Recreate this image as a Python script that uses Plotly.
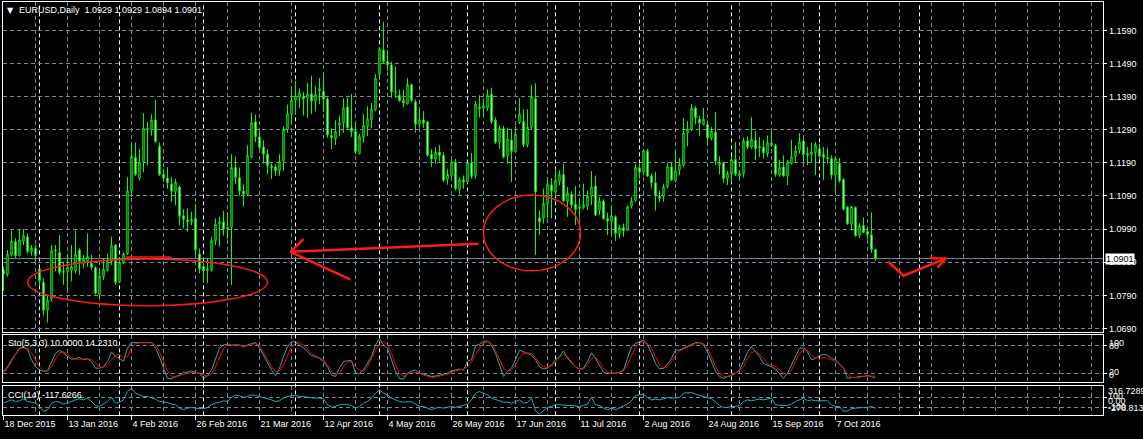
import plotly.graph_objects as go

# ---------------- data (EURUSD daily, bar index 0 = 18 Dec 2015) ----------------
opens = [1.0867,1.0854,1.0912,1.0952,1.0910,1.0954,1.0967,1.0922,1.0932,1.0870,
1.0829,1.0745,1.0780,1.0927,1.0919,1.0859,1.0862,1.0866,1.0864,1.0927,
1.0884,1.0892,1.0887,1.0874,1.0792,1.0847,1.0867,1.0892,1.0942,1.0830,
1.0887,1.0917,1.1104,1.1207,1.1144,1.1194,1.1290,1.1289,1.1320,1.1240,
1.1155,1.1144,1.1126,1.1104,1.1117,1.1030,1.1018,1.1012,1.1022,1.0915,
1.0877,1.0865,1.0867,1.0955,1.1005,1.1012,1.0990,1.0995,1.1176,1.1146,
1.1105,1.1095,1.1208,1.1314,1.1269,1.1238,1.1216,1.1181,1.1178,1.1166,
1.1196,1.1291,1.1336,1.1379,1.1389,1.1391,1.1386,1.1398,1.1376,1.1408,
1.1406,1.1383,1.1273,1.1263,1.1303,1.1311,1.1359,1.1296,1.1286,1.1218,
1.1268,1.1299,1.1321,1.1351,1.1458,1.1531,1.1496,1.1486,1.1403,1.1394,
1.1379,1.1368,1.1426,1.1374,1.1308,1.1320,1.1314,1.1216,1.1201,1.1222,
1.1212,1.1140,1.1152,1.1192,1.1110,1.1139,1.1132,1.1190,1.1152,1.1359,
1.1355,1.1355,1.1397,1.1319,1.1252,1.1294,1.1210,1.1259,1.1224,1.1312,
1.1315,1.1245,1.1297,1.1384,1.1024,1.1024,1.1065,1.1124,1.1102,1.1134,
1.1155,1.1074,1.1095,1.1064,1.1052,1.1055,1.1059,1.1089,1.1120,1.1047,
1.1075,1.1022,1.1012,1.1027,1.0977,1.0994,1.0987,1.1059,1.1077,1.1175,
1.1162,1.1226,1.1150,1.1130,1.1090,1.1090,1.1118,1.1178,1.1136,1.1168,
1.1183,1.1280,1.1291,1.1355,1.1322,1.1306,1.1306,1.1265,1.1283,1.1183,
1.1190,1.1143,1.1156,1.1200,1.1150,1.1158,1.1256,1.1238,1.1258,1.1235,
1.1238,1.1218,1.1250,1.1243,1.1153,1.1178,1.1150,1.1188,1.1210,1.1228,
1.1256,1.1218,1.1215,1.1221,1.1233,1.1215,1.1206,1.1203,1.1153,1.1188,
1.1140,1.1056,1.1006,1.1056,1.0970,1.1001,1.0983,1.0973,1.0929]
highs = [1.0877,1.0927,1.0985,1.0962,1.0990,1.0990,1.0977,1.0942,1.0942,1.0872,
1.0842,1.0790,1.0942,1.0942,1.0972,1.0892,1.0912,1.0942,1.0985,1.0932,
1.0912,1.0977,1.0912,1.0877,1.0872,1.0902,1.0917,1.0967,1.0944,1.0902,
1.0920,1.1147,1.1247,1.1252,1.1232,1.1340,1.1314,1.1337,1.1380,1.1252,
1.1172,1.1177,1.1147,1.1142,1.1122,1.1050,1.1052,1.1042,1.1067,1.0932,
1.0887,1.0902,1.0967,1.1022,1.1027,1.1045,1.1040,1.1216,1.1209,1.1176,
1.1125,1.1243,1.1342,1.1336,1.1286,1.1258,1.1231,1.1188,1.1186,1.1216,
1.1301,1.1366,1.1411,1.1438,1.1414,1.1404,1.1431,1.1453,1.1421,1.1446,
1.1464,1.1388,1.1294,1.1318,1.1333,1.1384,1.1388,1.1398,1.1311,1.1278,
1.1338,1.1361,1.1371,1.1458,1.1539,1.1616,1.1531,1.1496,1.1481,1.1411,
1.1411,1.1446,1.1429,1.1381,1.1348,1.1346,1.1316,1.1231,1.1237,1.1244,
1.1222,1.1172,1.1202,1.1202,1.1147,1.1152,1.1192,1.1220,1.1377,1.1394,
1.1384,1.1412,1.1417,1.1327,1.1302,1.1302,1.1297,1.1292,1.1302,1.1385,
1.1352,1.1352,1.1425,1.1430,1.1047,1.1112,1.1142,1.1144,1.1172,1.1167,
1.1187,1.1117,1.1104,1.1120,1.1082,1.1127,1.1107,1.1165,1.1152,1.1087,
1.1080,1.1040,1.1062,1.1032,1.1002,1.1007,1.1062,1.1087,1.1187,1.1187,
1.1230,1.1232,1.1158,1.1163,1.1106,1.1126,1.1190,1.1193,1.1226,1.1205,
1.1326,1.1316,1.1368,1.1362,1.1333,1.1356,1.1318,1.1298,1.1343,1.1210,
1.1193,1.1166,1.1210,1.1253,1.1168,1.1266,1.1270,1.1328,1.1286,1.1268,
1.1258,1.1273,1.1286,1.1248,1.1198,1.1213,1.1198,1.1260,1.1243,1.1280,
1.1263,1.1238,1.1250,1.1253,1.1248,1.1238,1.1236,1.1213,1.1208,1.1205,
1.1143,1.1060,1.1060,1.1058,1.1008,1.1026,1.0993,1.1041,1.0929]
lows = [1.0802,1.0847,1.0907,1.0902,1.0907,1.0942,1.0917,1.0910,1.0892,1.0822,
1.0730,1.0708,1.0772,1.0862,1.0852,1.0822,1.0802,1.0832,1.0857,1.0852,
1.0872,1.0877,1.0867,1.0792,1.0782,1.0837,1.0862,1.0882,1.0822,1.0827,
1.0884,1.0912,1.1087,1.1150,1.1137,1.1162,1.1182,1.1272,1.1252,1.1150,
1.1132,1.1112,1.1072,1.1062,1.1002,1.0992,1.0982,1.1002,1.0912,1.0857,
1.0827,1.0827,1.0862,1.0942,1.0937,1.0970,1.0960,1.0822,1.1126,1.1090,
1.1058,1.1090,1.1204,1.1253,1.1231,1.1188,1.1156,1.1141,1.1151,1.1151,
1.1166,1.1281,1.1306,1.1336,1.1356,1.1333,1.1326,1.1338,1.1346,1.1368,
1.1344,1.1266,1.1231,1.1244,1.1271,1.1281,1.1291,1.1268,1.1216,1.1216,
1.1251,1.1271,1.1294,1.1346,1.1444,1.1488,1.1466,1.1386,1.1386,1.1374,
1.1358,1.1366,1.1374,1.1281,1.1296,1.1296,1.1208,1.1178,1.1187,1.1194,
1.1132,1.1124,1.1147,1.1107,1.1094,1.1112,1.1127,1.1142,1.1142,1.1327,
1.1330,1.1347,1.1307,1.1247,1.1232,1.1204,1.1187,1.1132,1.1220,1.1307,
1.1237,1.1237,1.1292,1.0912,1.0972,1.1007,1.1022,1.1022,1.1087,1.1122,
1.1072,1.1027,1.1052,1.1002,1.1022,1.1050,1.1047,1.1062,1.1030,1.1032,
1.1017,1.0972,1.0972,1.0954,1.0962,1.0967,1.0984,1.1052,1.1072,1.1142,
1.1152,1.1147,1.1113,1.1046,1.1071,1.1073,1.1113,1.1136,1.1130,1.1153,
1.1176,1.1240,1.1286,1.1306,1.1270,1.1303,1.1243,1.1258,1.1183,1.1155,
1.1130,1.1123,1.1130,1.1150,1.1136,1.1146,1.1230,1.1233,1.1198,1.1208,
1.1203,1.1208,1.1238,1.1148,1.1148,1.1148,1.1123,1.1185,1.1193,1.1218,
1.1193,1.1183,1.1193,1.1153,1.1201,1.1138,1.1188,1.1140,1.1106,1.1130,
1.1046,1.1003,1.0986,1.0968,1.0963,1.0978,1.0958,1.0918,1.0894]
closes = [1.0854,1.0914,1.0954,1.0909,1.0957,1.0970,1.0922,1.0932,1.0910,1.0834,
1.0745,1.0775,1.0925,1.0924,1.0859,1.0862,1.0875,1.0877,1.0914,1.0892,
1.0899,1.0907,1.0874,1.0797,1.0847,1.0869,1.0892,1.0940,1.0829,1.0890,
1.0915,1.1105,1.1210,1.1155,1.1190,1.1294,1.1295,1.1320,1.1254,1.1155,
1.1144,1.1130,1.1104,1.1132,1.1029,1.1020,1.1012,1.1019,1.0927,1.0870,
1.0864,1.0869,1.0955,1.1005,1.1012,1.0990,1.0995,1.1176,1.1146,1.1105,
1.1095,1.1212,1.1311,1.1269,1.1236,1.1216,1.1181,1.1176,1.1166,1.1194,
1.1291,1.1338,1.1379,1.1392,1.1401,1.1383,1.1398,1.1376,1.1396,1.1414,
1.1382,1.1274,1.1266,1.1284,1.1311,1.1356,1.1296,1.1284,1.1224,1.1269,
1.1303,1.1323,1.1353,1.1446,1.1534,1.1496,1.1486,1.1404,1.1406,1.1378,
1.1371,1.1426,1.1378,1.1306,1.1320,1.1310,1.1213,1.1201,1.1222,1.1212,
1.1137,1.1155,1.1192,1.1112,1.1139,1.1132,1.1190,1.1149,1.1367,1.1354,
1.1362,1.1394,1.1314,1.1252,1.1294,1.1207,1.1262,1.1224,1.1277,1.1337,
1.1245,1.1297,1.1390,1.1102,1.1012,1.1067,1.1125,1.1104,1.1137,1.1154,
1.1075,1.1099,1.1062,1.1050,1.1057,1.1064,1.1090,1.1117,1.1032,1.1075,
1.1022,1.1014,1.1030,1.0977,1.0994,1.0984,1.1057,1.1075,1.1177,1.1162,
1.1227,1.1150,1.1130,1.1093,1.1082,1.1118,1.1178,1.1138,1.1166,1.1185,
1.1280,1.1291,1.1355,1.1326,1.1310,1.1322,1.1265,1.1286,1.1195,1.1191,
1.1143,1.1158,1.1200,1.1156,1.1158,1.1256,1.1238,1.1261,1.1233,1.1240,
1.1220,1.1250,1.1243,1.1155,1.1176,1.1150,1.1193,1.1208,1.1226,1.1253,
1.1215,1.1213,1.1223,1.1245,1.1210,1.1206,1.1203,1.1153,1.1203,1.1136,
1.1050,1.1006,1.1058,1.0970,1.1000,1.0980,1.0973,1.0928,1.0901]

sto_main = [24,34,49,63,74,76,72,49,34,27,24,25,45,63,70,63,56,50,52,54,
49,51,45,31,31,34,45,66,56,52,46,74,86,86,86,86,86,86,74,56,
31,9,8,13,16,22,22,25,22,20,9,15,27,52,74,81,82,81,81,81,
76,81,84,86,75,59,41,27,15,31,56,77,88,88,81,75,66,58,56,52,
45,34,16,13,31,45,47,47,20,20,27,41,56,81,95,81,74,49,24,9,
7,20,25,27,20,18,15,13,14,16,18,20,25,27,29,27,46,49,79,83,
89,89,81,63,38,13,24,31,49,70,66,63,59,49,34,29,31,38,49,56,
68,52,44,34,29,31,45,64,52,38,22,20,20,20,22,27,52,77,84,88,
91,81,63,41,29,31,39,52,70,70,74,77,82,86,86,81,66,45,24,13,
9,13,15,20,27,45,66,77,66,56,41,38,34,29,20,9,20,38,56,74,
75,66,49,52,58,61,59,52,49,41,31,9,11,11,13,13,15,13,10]
sto_signal = [20,31,45,61,72,75,74,63,49,34,25,25,34,51,64,66,61,54,50,50,
51,51,49,41,34,32,38,49,59,61,52,56,74,84,86,86,86,86,81,66,
45,25,13,11,15,18,20,22,22,20,16,14,18,34,56,74,81,82,81,81,
79,79,82,84,81,66,49,34,24,25,38,59,77,84,86,81,72,63,58,54,
49,38,25,16,20,34,44,45,34,27,24,34,52,70,84,88,81,63,38,20,
13,18,22,22,20,16,13,11,11,14,16,18,22,25,27,29,34,44,61,75,
86,88,84,70,49,31,24,27,38,54,64,64,63,54,41,34,32,36,44,54,
61,56,45,34,29,29,38,52,54,45,31,22,20,20,22,25,38,59,77,84,
88,84,74,56,38,31,34,45,59,68,72,75,79,84,86,84,75,56,34,20,
13,13,16,20,25,34,52,64,68,61,52,41,38,34,27,20,18,27,45,63,
70,69,59,54,52,54,52,49,45,39,31,20,11,11,11,14,14,13,14]
cci = [-16,16,48,16,29,68,16,3,-16,-81,-177,-145,-16,16,3,-35,-16,16,48,68,
48,81,16,-61,-81,-35,16,100,-16,3,48,210,274,177,145,113,113,94,61,16,
3,-3,-35,-48,-113,-145,-113,-100,-113,-126,-126,-100,-48,-16,-3,29,16,94,145,126,
100,113,145,132,113,81,68,48,16,29,81,113,126,132,119,106,100,94,81,81,
68,-48,-94,-81,-48,-35,-48,-61,-113,-81,-16,16,81,177,242,177,145,81,48,16,
3,3,16,-35,-81,-81,-113,-145,-113,-100,-113,-100,-81,-100,-81,-68,-35,48,177,210,
177,145,81,48,29,3,3,-16,16,48,-16,-3,81,-165,-229,-165,-100,-81,-48,-48,
-61,-61,-61,-68,-81,-61,-35,94,-48,-61,-113,-145,-113,-145,-113,-81,-35,29,132,145,
158,94,48,61,48,68,94,81,81,94,177,190,190,158,132,113,81,68,3,-61,
-100,-100,-81,-81,-61,16,48,29,48,61,48,68,81,-48,-61,-61,-61,-35,16,48,
81,29,48,29,29,16,29,-48,-81,-81,-177,-165,-126,-113,-100,-100,-100,-81,-118]

date_tick_bars = [0,16,32,48,64,80,96,112,128,144,160,176,192,208]
date_tick_labels = ["18 Dec 2015","13 Jan 2016","4 Feb 2016","26 Feb 2016","21 Mar 2016",
                    "12 Apr 2016","4 May 2016","26 May 2016","17 Jun 2016","11 Jul 2016",
                    "2 Aug 2016","24 Aug 2016","15 Sep 2016","7 Oct 2016"]
month_sep_bars = [9,29,50,73,94,116,138,159,182,204,229]
price_ticks = [round(1.0690 + 0.01*k, 4) for k in range(10)]
last_close = 1.0901

bars = list(range(len(closes)))

# ---------------- layout geometry ----------------
W, H = 1143, 439
def py(px):
    return 1 - px / H

XDOM = [2.5 / W, 1103.3 / W]
XR = [-0.25, 274.95]
MAIN_DOM = [py(333.3), py(2.5)]
STO_DOM = [py(384.0), py(336.7)]
CCI_DOM = [py(417.3), py(387.3)]
GRID = "#778899"
FONT = "Liberation Sans"
LIME = "#00FF00"
TEAL = "#20B2AA"

fig = go.Figure()
fig.add_trace(go.Candlestick(
    x=bars, open=opens, high=highs, low=lows, close=closes,
    increasing=dict(line=dict(color=LIME, width=1), fillcolor="black"),
    decreasing=dict(line=dict(color=LIME, width=1), fillcolor="white"),
    whiskerwidth=0, xaxis="x", yaxis="y", showlegend=False, hoverinfo="skip"))
fig.add_trace(go.Scatter(x=bars, y=sto_main, mode="lines", line=dict(color=TEAL, width=1),
                         xaxis="x2", yaxis="y2", showlegend=False))
fig.add_trace(go.Scatter(x=bars, y=sto_signal, mode="lines", line=dict(color="red", width=1),
                         xaxis="x2", yaxis="y2", showlegend=False))
fig.add_trace(go.Scatter(x=bars, y=cci, mode="lines", line=dict(color=TEAL, width=1),
                         xaxis="x3", yaxis="y3", showlegend=False))

minor_grid = dict(tickvals=list(range(8, 276, 8)), showgrid=True, gridcolor=GRID,
                  griddash="4px,3px", gridwidth=1, ticks="")
xcommon = dict(domain=XDOM, range=XR, showgrid=False, zeroline=False, showline=True,
               mirror=True, linecolor="white", linewidth=1, minor=minor_grid,
               rangeslider=dict(visible=False))
fig.update_layout(
    xaxis=dict(anchor="y", showticklabels=False, **xcommon),
    xaxis2=dict(anchor="y2", matches="x", showticklabels=False, **xcommon),
    xaxis3=dict(anchor="y3", matches="x", tickmode="array", tickvals=date_tick_bars,
                ticktext=date_tick_labels, ticks="outside", ticklen=4, tickcolor="white",
                ticklabelposition="outside right",
                tickfont=dict(family=FONT, size=9, color="white"), **xcommon),
    yaxis=dict(domain=MAIN_DOM, range=[1.06801, 1.16741], anchor="x", side="right",
               tickmode="array", tickvals=price_ticks, ticktext=[f"{v:.4f}" for v in price_ticks],
               showgrid=True, gridcolor=GRID, griddash="4px,3px", zeroline=False,
               ticks="outside", ticklen=3, tickcolor="white", showline=True, mirror=True,
               linecolor="white", tickfont=dict(family=FONT, size=9, color="white")),
    yaxis2=dict(domain=STO_DOM, range=[0.6, 102.1], anchor="x2", side="right",
                tickmode="array", tickvals=[20, 80], showticklabels=False,
                showgrid=True, gridcolor=GRID, griddash="4px,3px", zeroline=False,
                ticks="outside", ticklen=3, tickcolor="white", showline=True, mirror=True,
                linecolor="white"),
    yaxis3=dict(domain=CCI_DOM, range=[-255, 327], anchor="x3", side="right",
                tickmode="array", tickvals=[-100, 100], showticklabels=False,
                showgrid=True, gridcolor=GRID, griddash="4px,3px", zeroline=False,
                ticks="outside", ticklen=3, tickcolor="white", showline=True, mirror=True,
                linecolor="white"),
    width=W, height=H, margin=dict(l=0, r=0, t=0, b=0),
    paper_bgcolor="black", plot_bgcolor="black", showlegend=False,
    boxgap=0.5,
)

shapes = []
# month separators
for b in month_sep_bars:
    shapes.append(dict(type="line", xref="x", yref="paper", x0=b, x1=b,
                       y0=CCI_DOM[0], y1=MAIN_DOM[1],
                       line=dict(color="white", width=1, dash="4px,3px"), layer="below"))
# current price line
shapes.append(dict(type="line", xref="paper", yref="y", x0=XDOM[0], x1=XDOM[1],
                   y0=last_close, y1=last_close, line=dict(color=GRID, width=1), layer="below"))
RED = "#FF1A1A"
# hand-drawn objects
shapes.append(dict(type="circle", xref="x", yref="y", x0=6.0, x1=66.0, y0=1.0759, y1=1.0900,
                   line=dict(color=RED, width=1.5)))
shapes.append(dict(type="line", xref="x", yref="y", x0=30.5, x1=42.0, y0=1.09055, y1=1.09055,
                   line=dict(color=RED, width=1.5)))
shapes.append(dict(type="circle", xref="x", yref="y", x0=120.0, x1=144.25, y0=1.0864, y1=1.1093,
                   line=dict(color=RED, width=1.5)))
shapes.append(dict(type="line", xref="x", yref="y", x0=118.75, x1=71.75, y0=1.09455, y1=1.09214,
                   line=dict(color=RED, width=2.5)))
shapes.append(dict(type="line", xref="x", yref="y", x0=71.75, x1=86.75, y0=1.09214, y1=1.08373,
                   line=dict(color=RED, width=2.5)))
shapes.append(dict(type="line", xref="x", yref="y", x0=71.75, x1=75.0, y0=1.09214, y1=1.0960,
                   line=dict(color=RED, width=2.5)))
shapes.append(dict(type="path", xref="x", yref="y",
                   path="M 221.25 1.08914 L 225 1.08494 L 235.5 1.09011",
                   line=dict(color=RED, width=2.5)))
shapes.append(dict(type="path", xref="x", yref="y",
                   path="M 231.5 1.0903 L 235.5 1.09011 L 233.5 1.0874",
                   line=dict(color=RED, width=2.5)))
fig.update_layout(shapes=shapes)

ann = []
def txt(text, xpx, ypx, color="white", size=9, family=FONT, **kw):
    ann.append(dict(text=text, xref="paper", yref="paper", x=xpx / W, y=py(ypx),
                    xanchor="left", yanchor="middle", showarrow=False,
                    font=dict(family=family, size=size, color=color), **kw))

txt("\u25BC", 5, 10.5, size=8, family="DejaVu Sans")
txt("EURUSD,Daily  1.0929 1.0929 1.0894 1.0901", 17, 10.5)
txt("Sto(5,3,3) 10.0000 14.2310", 6, 345)
txt("CCI(14) -117.6266", 6, 396.5)
for t, ypx in [("100", 344.5), ("80", 347.5), ("20", 374), ("0", 376.5)]:
    txt(t, 1107, ypx)
for t, ypx in [("316.7289", 393), ("100", 397.5), ("0.00", 403), ("-100", 408.5), ("-278.813", 409.5)]:
    txt(t, 1105.5, ypx)
ann.append(dict(text="1.0901", xref="paper", yref="y", x=1104.5 / W, y=last_close,
                xanchor="left", yanchor="middle", showarrow=False, bgcolor="white",
                borderpad=0, font=dict(family=FONT, size=9, color="black")))
fig.update_layout(annotations=ann)

fig.write_html("out.html", config={"displayModeBar": False},
               post_script="document.body.style.margin='0';document.body.style.overflow='hidden';")
